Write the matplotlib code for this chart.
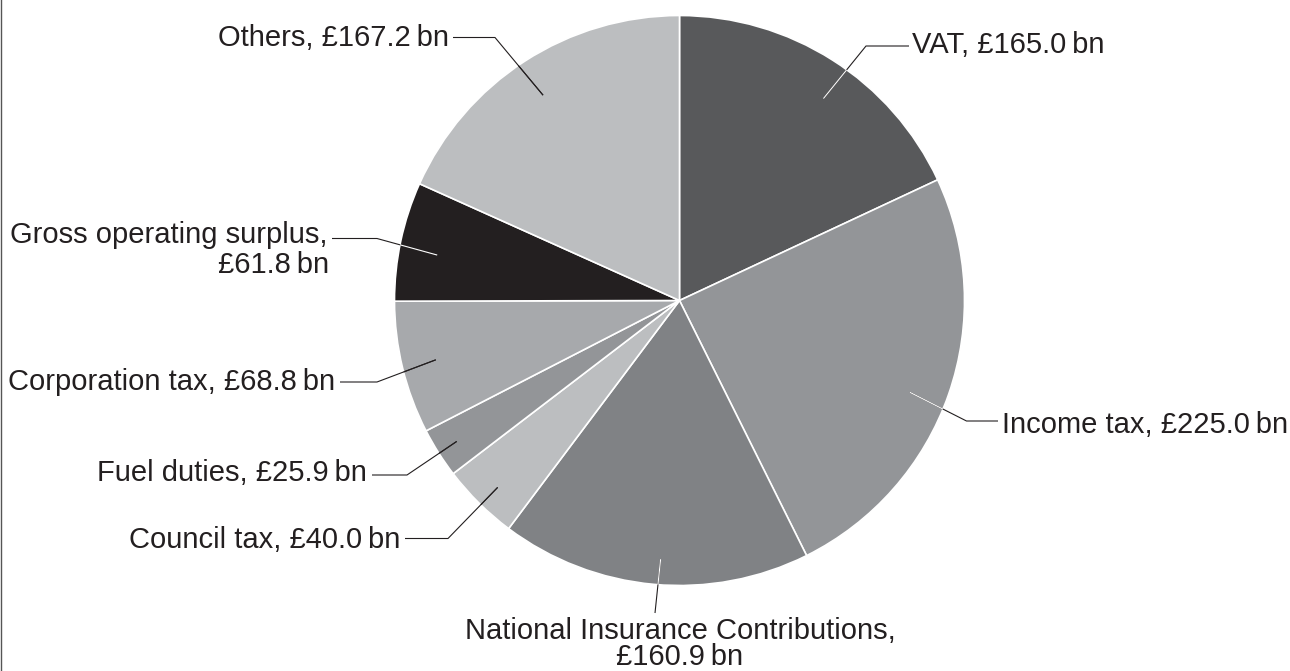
import numpy as np
import matplotlib
matplotlib.use("Agg")
import matplotlib.pyplot as plt
from matplotlib.lines import Line2D

plt.rcParams["font.family"] = ["Liberation Sans", "DejaVu Sans"]

# Public sector receipts, £ billion
categories = ["VAT", "Income tax", "National Insurance Contributions", "Council tax",
              "Fuel duties", "Corporation tax", "Gross operating surplus", "Others"]
values = [165.0, 225.0, 160.9, 40.0, 25.9, 68.8, 61.8, 167.2]
colors = ["#58595b", "#939598", "#808285", "#bcbec0",
          "#939598", "#a7a9ac", "#231f20", "#bcbec0"]

W, H = 1290, 671
fig = plt.figure(figsize=(W / 100, H / 100), dpi=100)
ax = fig.add_axes([0, 0, 1, 1])


def px(x, y):
    """Pixel position measured from the top-left corner -> data coords."""
    return x, H - y


cx, cy = px(679.5, 300.5)
R = 285.0

wedges, _ = ax.pie(values, colors=colors, startangle=90, counterclock=False,
                   center=(cx, cy), radius=R,
                   wedgeprops=dict(edgecolor="white", linewidth=1.2))
ax.set_xlim(0, W)
ax.set_ylim(0, H)
ax.set_aspect("equal")
ax.axis("off")

TXT = "#231f20"
FS = 21
TS = "\u2009"

# leader layout: anchor radius fraction and angular nudge (deg, clockwise),
# elbow point, line end, text lines (x, y, text), alignment,
# and colour of the part of the leader inside the slice
layout = [
    dict(rf=0.87, da=3.0, elbow=(866, 46), end=(909, 46), ha="left", inner="white",
         lines=[(912, 53, f"{categories[0]}, £{values[0]:.1f}{TS}bn")]),
    dict(rf=0.87, da=2.5, elbow=(966.5, 421), end=(998, 421), ha="left", inner="white",
         lines=[(1002, 433, f"{categories[1]}, £{values[1]:.1f}{TS}bn")]),
    dict(rf=0.91, da=-1.0, elbow=None, end=(655, 613), ha="center", inner="white",
         lines=[(680, 639, f"{categories[2]},"),
                (680, 665, f"£{values[2]:.1f}{TS}bn")]),
    dict(rf=0.915, da=-0.5, elbow=(448, 538.5), end=(405, 538.5), ha="right", inner=TXT,
         lines=[(400, 548, f"{categories[3]}, £{values[3]:.1f}{TS}bn")]),
    dict(rf=0.925, da=0.0, elbow=(407, 475), end=(372, 475), ha="right", inner=TXT,
         lines=[(367, 481, f"{categories[4]}, £{values[4]:.1f}{TS}bn")]),
    dict(rf=0.88, da=0.0, elbow=(377, 382), end=(340, 382), ha="right", inner=TXT,
         lines=[(335, 390, f"{categories[5]}, £{values[5]:.1f}{TS}bn")]),
    dict(rf=0.865, da=-1.4, elbow=(377, 238.5), end=(332, 238.5), ha="right", inner="white",
         lines=[(327, 243, f"{categories[6]},"),
                (329, 273, f"£{values[6]:.1f}{TS}bn")]),
    dict(rf=0.865, da=-0.7, elbow=(495, 37.5), end=(453, 37.5), ha="right", inner=TXT,
         lines=[(449, 45.7, f"{categories[7]}, £{values[7]:.1f}{TS}bn")]),
]

for w, lay in zip(wedges, layout):
    mid = np.deg2rad((w.theta1 + w.theta2) / 2 - lay["da"])
    ax_x = cx + lay["rf"] * R * np.cos(mid)
    ax_y = cy + lay["rf"] * R * np.sin(mid)
    pts = [(ax_x, ax_y)]
    if lay["elbow"] is not None:
        pts.append(px(*lay["elbow"]))
    pts.append(px(*lay["end"]))
    xs, ys = zip(*pts)
    ax.plot(xs, ys, color=TXT, lw=0.8, solid_capstyle="butt", zorder=3)
    inner, = ax.plot(xs, ys, color=lay["inner"], lw=0.8,
                     solid_capstyle="butt", zorder=4)
    inner.set_clip_path(w)
    for (tx, ty, s) in lay["lines"]:
        x, y = px(tx, ty)
        ax.text(x, y, s, ha=lay["ha"], va="baseline", fontsize=FS, color=TXT)

# thin frame line on the left edge
fig.add_artist(Line2D([0.6 / W, 0.6 / W], [0, 1], transform=fig.transFigure,
                      color="#555555", lw=1.0))

fig.savefig("out.png", dpi=100, facecolor="white")
